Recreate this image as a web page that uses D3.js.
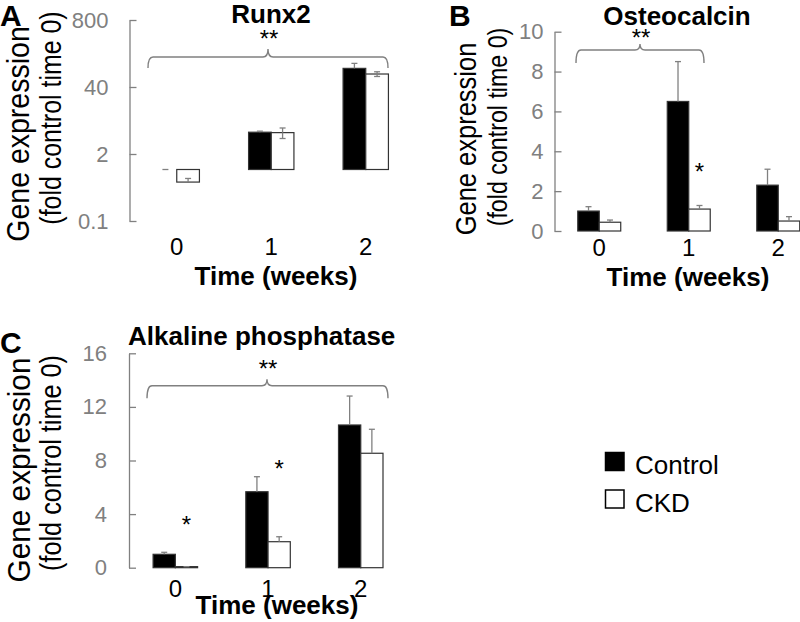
<!DOCTYPE html>
<html>
<head>
<meta charset="utf-8">
<script src="https://cdn.jsdelivr.net/npm/d3@7"></script>
<style>
  body { margin: 0; background: #fff; }
  svg { font-family: "Liberation Sans", Arial, sans-serif; }
</style>
</head>
<body>
<div id="chart"></div>
<script>
// data
const weeks = ["0", "1", "2"];
const groups = ["Control", "CKD"];

// Runx2 (log axis, bars start at 1)
const runx2Control = [1.0, 5.3, 92];
const runx2ControlErr = [0, 0.25, 23];
const runx2Ckd = [0.57, 5.2, 71.5];
const runx2CkdErr = [0.1, 1.2, 7.5];
const runx2Ticks = [0.1, 2, 40, 800];

// Osteocalcin
const oscControl = [1.0, 6.5, 2.3];
const oscControlErr = [0.22, 2.0, 0.8];
const oscCkd = [0.44, 1.1, 0.5];
const oscCkdErr = [0.11, 0.18, 0.22];
const oscTicks = [0, 2, 4, 6, 8, 10];

// Alkaline phosphatase
const alpControl = [1.0, 5.67, 10.65];
const alpControlErr = [0.15, 1.12, 2.16];
const alpCkd = [0.08, 1.94, 8.54];
const alpCkdErr = [0, 0.37, 1.79];
const alpTicks = [0, 4, 8, 12, 16];

const svgWidth = 800;
const svgHeight = 622;
const grey = "#808080";

const svg = d3.select("#chart")
  .append("svg")
  .attr("width", svgWidth)
  .attr("height", svgHeight);

const panels = [
  {
    letter: "A", letterX: 0, letterY: 26,
    title: "Runx2", titleX: 271, titleY: 23, titleAnchor: "middle",
    control: runx2Control, controlErr: runx2ControlErr,
    ckd: runx2Ckd, ckdErr: runx2CkdErr,
    ticks: runx2Ticks, log: true, domain: [0.1, 800], base: 1,
    axisX: 129.5, step: 94.5, yBottom: 221, yTop: 20, labelGap: 21,
    lowerErr: "CKD",
    ylab1: { x: 29, y: 134, size: 31, sx: 0.92 }, ylab2: { x: 61, y: 118, size: 29, sx: 0.86 },
    tickY: 255, timeX: 276, timeY: 285,
    brace: { x0: 148, x1: 388, xm: 268, yLine: 57, yEnd: 68, yPeak: 49 },
    starsY: 46.5,
    single: []
  },
  {
    letter: "B", letterX: 449, letterY: 26,
    title: "Osteocalcin", titleX: 677, titleY: 25, titleAnchor: "middle",
    control: oscControl, controlErr: oscControlErr,
    ckd: oscCkd, ckdErr: oscCkdErr,
    ticks: oscTicks, log: false, domain: [0, 10], base: 0,
    axisX: 554.5, step: 89.5, yBottom: 231, yTop: 31.7, labelGap: 11,
    lowerErr: null,
    ylab1: { x: 476, y: 139, size: 30, sx: 0.85 }, ylab2: { x: 507, y: 127, size: 27, sx: 0.86 },
    tickY: 256, timeX: 688, timeY: 286,
    brace: { x0: 576, x1: 704, xm: 640, yLine: 50, yEnd: 63, yPeak: 44 },
    starsY: 46,
    single: [{ week: "1", at: 2.58 }]
  },
  {
    letter: "C", letterX: 0, letterY: 353,
    title: "Alkaline phosphatase", titleX: 128, titleY: 345, titleAnchor: "start",
    control: alpControl, controlErr: alpControlErr,
    ckd: alpCkd, ckdErr: alpCkdErr,
    ticks: alpTicks, log: false, domain: [0, 16], base: 0,
    axisX: 129, step: 92.7, yBottom: 567.7, yTop: 353.3, labelGap: 22,
    lowerErr: null,
    ylab1: { x: 30, y: 470, size: 32, sx: 0.93 }, ylab2: { x: 61, y: 463, size: 29, sx: 0.87 },
    tickY: 597, timeX: 277, timeY: 614,
    brace: { x0: 147, x1: 388, xm: 267, yLine: 385.7, yEnd: 398.3, yPeak: 379.3 },
    starsY: 376.5,
    single: [{ week: "0", at: 2.59 }, { week: "1", at: 6.77 }]
  }
];

function drawPanel(p) {
  const g = svg.append("g");

  const x = d3.scaleBand()
    .domain(weeks)
    .range([p.axisX, p.axisX + 3 * p.step])
    .paddingInner(0.52)
    .paddingOuter(0.26);
  const xs = d3.scaleBand()
    .domain(groups)
    .range([0, x.bandwidth()]);
  const y = (p.log ? d3.scaleLog() : d3.scaleLinear())
    .domain(p.domain)
    .range([p.yBottom, p.yTop]);

  // y axis, ticks pointing inward
  const leftAxis = d3.axisLeft(y)
    .tickValues(p.ticks)
    .tickFormat(d => d)
    .tickSizeInner(-7)
    .tickSizeOuter(0)
    .tickPadding(p.labelGap);
  const ax = g.append("g")
    .attr("transform", `translate(${p.axisX},0)`)
    .call(leftAxis);
  ax.select(".domain").attr("stroke", grey).attr("stroke-width", 1.3);
  ax.selectAll(".tick line").attr("stroke", grey).attr("stroke-width", 1.3);
  ax.selectAll(".tick text")
    .attr("fill", grey)
    .style("font-size", "22px")
    .style("font-family", "'Liberation Sans', Arial, sans-serif");

  const rows = [];
  weeks.forEach((w, i) => {
    rows.push({ week: w, group: "Control", v: p.control[i], e: p.controlErr[i] });
    rows.push({ week: w, group: "CKD", v: p.ckd[i], e: p.ckdErr[i] });
  });

  const y0 = y(p.base);
  g.selectAll(".bar")
    .data(rows)
    .enter()
    .append("rect")
    .attr("class", "bar")
    .attr("x", d => x(d.week) + xs(d.group))
    .attr("y", d => Math.min(y(d.v), y0))
    .attr("width", xs.bandwidth())
    .attr("height", d => Math.abs(y(d.v) - y0))
    .attr("fill", d => d.group === "Control" ? "#000" : "#fff")
    .attr("stroke", "#333")
    .attr("stroke-width", 1.2);

  // error bars
  const cap = 3;
  rows.forEach(d => {
    const cx = x(d.week) + xs(d.group) + xs.bandwidth() / 2;
    const yHi = y(d.v + d.e);
    g.append("line").attr("x1", cx).attr("x2", cx)
      .attr("y1", y(d.v)).attr("y2", yHi)
      .attr("stroke", grey).attr("stroke-width", 1.3);
    g.append("line").attr("x1", cx - cap).attr("x2", cx + cap)
      .attr("y1", yHi).attr("y2", yHi)
      .attr("stroke", grey).attr("stroke-width", 1.3);
    if (p.lowerErr === d.group && d.v > p.base) {
      const yLo = y(d.v - d.e);
      g.append("line").attr("x1", cx).attr("x2", cx)
        .attr("y1", y(d.v)).attr("y2", yLo)
        .attr("stroke", grey).attr("stroke-width", 1.3);
      g.append("line").attr("x1", cx - cap).attr("x2", cx + cap)
        .attr("y1", yLo).attr("y2", yLo)
        .attr("stroke", grey).attr("stroke-width", 1.3);
    }
  });

  // x tick labels
  g.selectAll(".wk")
    .data(weeks)
    .enter()
    .append("text")
    .attr("x", d => x(d) + x.bandwidth() / 2)
    .attr("y", p.tickY)
    .attr("text-anchor", "middle")
    .style("font-size", "24px")
    .text(d => d);

  g.append("text")
    .attr("x", p.timeX)
    .attr("y", p.timeY)
    .attr("text-anchor", "middle")
    .style("font-size", "26px")
    .style("font-weight", "bold")
    .text("Time (weeks)");

  // y label, two lines (the original lettering is a bit condensed)
  [[p.ylab1, "Gene expression"], [p.ylab2, "(fold control time 0)"]].forEach(([l, txt]) => {
    g.append("text")
      .attr("transform", `translate(${l.x},${l.y}) rotate(-90) scale(${l.sx},1)`)
      .attr("text-anchor", "middle")
      .style("font-size", l.size + "px")
      .text(txt);
  });

  // title and panel letter
  g.append("text")
    .attr("x", p.titleX)
    .attr("y", p.titleY)
    .attr("text-anchor", p.titleAnchor)
    .style("font-size", "26px")
    .style("font-weight", "bold")
    .text(p.title);
  g.append("text")
    .attr("x", p.letterX)
    .attr("y", p.letterY)
    .style("font-size", "30px")
    .style("font-weight", "bold")
    .text(p.letter);

  // significance brace
  const b = p.brace, r = 5;
  const path = d3.path();
  path.moveTo(b.x0, b.yEnd);
  path.quadraticCurveTo(b.x0, b.yLine, b.x0 + r, b.yLine);
  path.lineTo(b.xm - r, b.yLine);
  path.quadraticCurveTo(b.xm, b.yLine, b.xm, b.yPeak);
  path.quadraticCurveTo(b.xm, b.yLine, b.xm + r, b.yLine);
  path.lineTo(b.x1 - r, b.yLine);
  path.quadraticCurveTo(b.x1, b.yLine, b.x1, b.yEnd);
  g.append("path")
    .attr("d", path.toString())
    .attr("fill", "none")
    .attr("stroke", grey)
    .attr("stroke-width", 1.4);
  g.append("text")
    .attr("x", b.xm + 1)
    .attr("y", p.starsY)
    .attr("text-anchor", "middle")
    .style("font-size", "24px")
    .text("**");

  p.single.forEach(s => {
    g.append("text")
      .attr("x", x(s.week) + xs("CKD") + xs.bandwidth() / 2)
      .attr("y", y(s.at))
      .attr("text-anchor", "middle")
      .style("font-size", "24px")
      .text("*");
  });
}

panels.forEach(drawPanel);

// legend
const legend = svg.append("g").attr("transform", "translate(605,452)");
groups.forEach((name, i) => {
  legend.append("rect")
    .attr("x", 0.5)
    .attr("y", i * 37.5 + 0.5)
    .attr("width", 18.5)
    .attr("height", 18)
    .attr("fill", name === "Control" ? "#000" : "#fff")
    .attr("stroke", "#000")
    .attr("stroke-width", 1.5);
  legend.append("text")
    .attr("x", 30)
    .attr("y", i * 37.5 + 22)
    .style("font-size", "26px")
    .text(name);
});
</script>
</body>
</html>
